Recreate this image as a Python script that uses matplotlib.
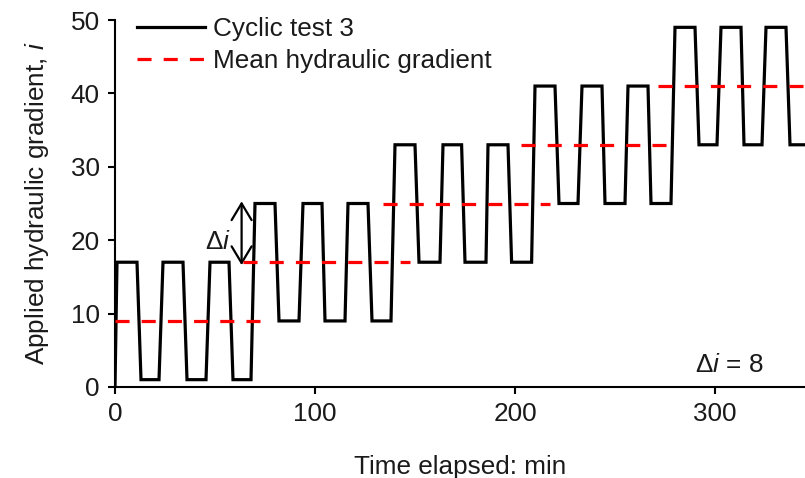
import matplotlib
matplotlib.use("Agg")
import matplotlib.pyplot as plt

plt.rcParams['font.family'] = ['Liberation Sans', 'DejaVu Sans']
plt.rcParams['mathtext.fontset'] = 'custom'
plt.rcParams['mathtext.rm'] = 'Liberation Sans'
plt.rcParams['mathtext.it'] = 'Liberation Sans:italic'

# Cyclic test 3 waveform (time in min, applied gradient)
time_min = [0, 1, 11, 13, 22, 24, 34, 36, 45.5, 47.5, 57, 59, 68, 70,
            80, 82, 92, 94, 103.5, 105, 115, 116.5, 126.5, 128.5, 138, 140,
            150, 152, 162.5, 164, 173.3, 175, 185.5, 186.5, 196.5, 198.3, 208.3, 210,
            220, 222, 231.5, 233.5, 243.5, 245, 255, 256.5, 266.5, 268, 278, 280,
            290, 292, 301, 303, 313, 314.5, 323.5, 325.5, 335.5, 337.5, 345]
gradient = [0, 17, 17, 1, 1, 17, 17, 1, 1, 17, 17, 1, 1, 25,
            25, 9, 9, 25, 25, 9, 9, 25, 25, 9, 9, 33,
            33, 17, 17, 33, 33, 17, 17, 33, 33, 17, 17, 41,
            41, 25, 25, 41, 41, 25, 25, 41, 41, 25, 25, 49,
            49, 33, 33, 49, 49, 33, 33, 49, 49, 33, 33]

# Mean hydraulic gradient segments
mean_levels = [9, 17, 25, 33, 41]
mean_start = [0, 64, 134, 203, 271.5]
mean_end = [72.5, 147.5, 217.5, 278, 345]

x_ticks = [0, 100, 200, 300]
y_ticks = [0, 10, 20, 30, 40, 50]

FS = 18.8
TXT = '#1a1a1a'

fig = plt.figure(figsize=(8.05, 4.78), dpi=100)
ax = fig.add_axes([115/805, 91/478, 690/805, 367/478])

lw = 2.3
ax.plot(time_min, gradient, color='black', lw=lw, solid_joinstyle='miter',
        label='Cyclic test 3', zorder=3)
for i, (lv, s, e) in enumerate(zip(mean_levels, mean_start, mean_end)):
    ax.plot([s, e], [lv, lv], color='#ff0000', lw=lw, dashes=(4.4, 3.8),
            solid_capstyle='butt', dash_capstyle='butt', zorder=4,
            label='Mean hydraulic gradient' if i == 0 else None)

ax.set_xlim(0, 345)
ax.set_ylim(0, 50)
ax.set_xticks(x_ticks)
ax.set_yticks(y_ticks)
for sp in ['top', 'right']:
    ax.spines[sp].set_visible(False)
for sp in ['left', 'bottom']:
    ax.spines[sp].set_linewidth(1.5)
ax.tick_params(direction='out', length=5, width=1.5, labelsize=FS, pad=6,
               labelcolor=TXT)
ax.set_xlabel('Time elapsed: min', fontsize=FS, labelpad=21, color=TXT)
ax.set_ylabel('Applied hydraulic gradient, $i$', fontsize=FS, labelpad=14, color=TXT)

ax.annotate('', xy=(63.3, 16.6), xytext=(63.3, 25.3),
            arrowprops=dict(arrowstyle='<->,head_length=0.75,head_width=0.45',
                            mutation_scale=16, lw=1.6, color='black',
                            shrinkA=0, shrinkB=0))
ax.text(58, 19.8, r'$\Delta i$', fontsize=FS, ha='right', va='center', color=TXT)
ax.text(290, 3, r'$\Delta i$ = 8', fontsize=FS, ha='left', va='center', color=TXT)

leg = ax.legend(loc='upper left', bbox_to_anchor=(137/805, 1 - 17/478),
                bbox_transform=fig.transFigure, frameon=False, fontsize=FS,
                handlelength=2.6, handletextpad=0.3, labelspacing=0.3,
                borderaxespad=0, borderpad=0)
for t in leg.get_texts():
    t.set_color(TXT)

fig.savefig('out.png', dpi=100)
